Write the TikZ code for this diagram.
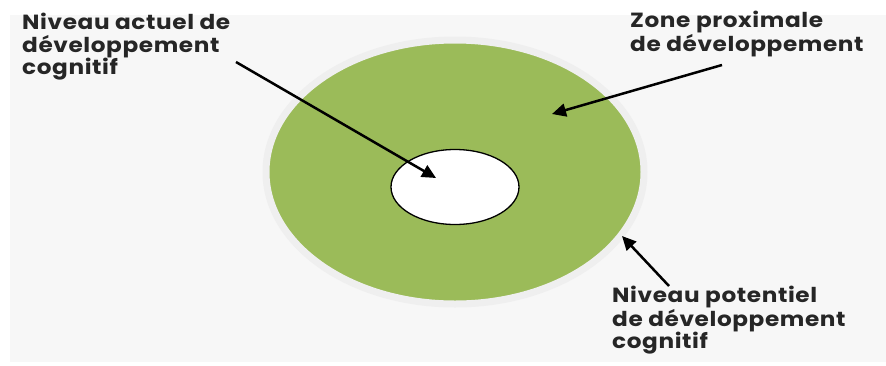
\documentclass[tikz,border=0pt]{standalone}
\usepackage{fontspec}
\setmainfont{Poppins}
\newfontfamily\labelfont[FakeStretch=1.13, LetterSpace=3]{Poppins}
\usetikzlibrary{shapes.geometric,arrows.meta}
\definecolor{zpdgreen}{HTML}{9BBB59}
\definecolor{panel}{HTML}{F7F7F7}
\definecolor{rim}{HTML}{EFEFEF}
\tikzset{
  label/.style={anchor=north west, align=left, inner sep=0pt,
    font=\labelfont\fontsize{20.5}{22.5}\selectfont\bfseries, text=black!85},
  pointer/.style={line width=2.5pt, -{Triangle[length=14pt,width=13pt]}},
}
\begin{document}
\begin{tikzpicture}[x=1pt,y=-1pt]
  \useasboundingbox (0,0) rectangle (886,365);
  \fill[white] (0,0) rectangle (886,365);
  \fill[panel] (10,15) rectangle (886,362);

  % potential level: green disc with a pale rim
  \node[ellipse, draw=rim, line width=7pt, fill=zpdgreen,
        minimum width=378pt, minimum height=264pt, inner sep=0pt] (outer) at (455,172) {};
  % current level: white core
  \node[ellipse, draw=black, line width=1.3pt, fill=white,
        minimum width=128pt, minimum height=75pt, inner sep=0pt] (inner) at (455,187) {};

  \node[label] (actuel) at (22,13) {Niveau actuel de\\développement\\cognitif};
  \node[label] (zone) at (630,11) {Zone proximale\\de développement};
  \node[label] (potentiel) at (612,286) {Niveau potentiel\\de développement\\cognitif};

  \coordinate (a0) at (236,62);
  \coordinate (a1) at (436,178);
  \coordinate (z0) at (722,65);
  \coordinate (z1) at (552,114);
  \coordinate (p0) at (669,286);
  \coordinate (p1) at (622,236);

  \draw[pointer] (a0) -- (a1);
  \draw[pointer] (z0) -- (z1);
  \draw[pointer] (p0) -- (p1);
\end{tikzpicture}
\end{document}
